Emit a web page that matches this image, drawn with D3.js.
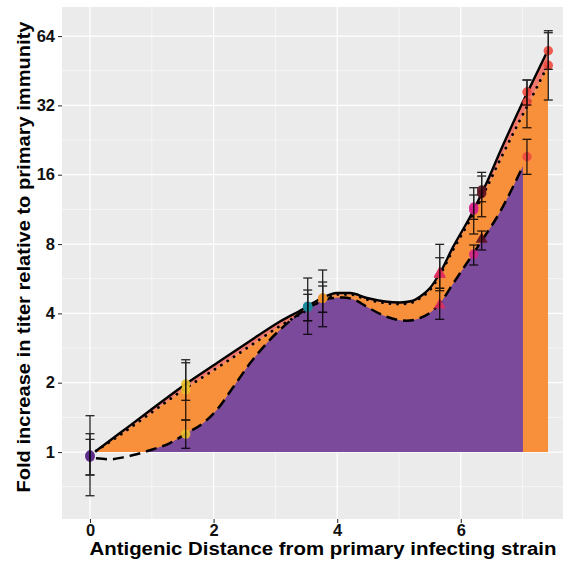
<!DOCTYPE html>
<html>
<head>
<meta charset="utf-8">
<script src="https://cdn.jsdelivr.net/npm/d3@7"></script>
<style>
  html, body { margin: 0; padding: 0; background: #ffffff; }
  svg { display: block; }
  text { font-family: "Liberation Sans", Arial, sans-serif; font-weight: bold; }
</style>
</head>
<body>
<svg id="chart" width="563" height="564"></svg>
<script>
// ---------- DATA ----------
// Upper (solid) and dotted model curves share the same distances
const curveDistance = [0.097,0.485,0.971,1.505,2.104,2.589,3.074,3.447,3.722,3.997,4.207,4.482,4.773,5.016,5.210,5.356,5.502,5.663,5.874,6.149,6.424,6.634,6.958,7.233,7.411];
const solidFold  = [1.01,1.209,1.514,1.935,2.484,3.033,3.686,4.178,4.617,4.90,4.90,4.663,4.503,4.458,4.525,4.757,5.154,5.99,7.76,10.48,14.87,20.07,31.16,44.35,55.65];
const dottedFold = [1.01,1.185,1.469,1.859,2.363,2.886,3.525,4.034,4.503,4.83,4.83,4.594,4.435,4.391,4.458,4.687,5.052,5.869,7.536,10.17,14.15,18.53,27.64,38.45,48.05];
// Lower (dashed) model curve
const dashedDistance = [0.097,0.324,0.534,0.701,0.943,1.294,1.565,1.833,2.050,2.319,2.589,2.859,3.128,3.398,3.668,3.883,4.094,4.288,4.477,4.801,5.124,5.393,5.663,5.879,5.987,6.311,6.634,7.006];
const dashedFold = [0.939,0.930,0.948,0.970,1.013,1.094,1.206,1.336,1.522,1.915,2.427,2.965,3.500,4.002,4.422,4.649,4.687,4.571,4.274,3.868,3.717,3.868,4.422,5.402,5.97,8.057,11.02,17.45];
// Observations
const pointDistance = [0,0,0, 1.549,1.549,1.549, 3.523,3.523,3.523, 3.765,3.765,3.765, 5.659,5.659,5.659, 6.209,6.209,6.209, 6.338,6.338,6.338, 7.071,7.071,7.071, 7.416,7.416];
const pointFold = [0.961,0.97,0.95, 1.974,1.859,1.197, 4.274,4.25,4.30, 4.649,4.65,4.65, 5.97,5.9,4.347, 11.55,11.24,7.219, 13.73,13.28,8.386, 36.57,33.09,19.15, 55.27,47.76];
const pointLow  = [0.646,0.795,0.795, 1.677,1.377,1.038, 3.244,3.717,3.717, 3.50,4.042,4.042, 5.138,5.016,3.769, 10.24,8.843,6.486, 12.21,10.51,7.536, 32.11,25.59,16.06, 45.88,33.76];
const pointHigh = [1.438,1.201,1.135, 2.442,2.516,1.377, 5.695,5.051,4.839, 6.17,5.472,5.258, 6.977,7.977,5.138, 13.06,14.05,7.922, 16.38,15.79,9.11, 41.24,41.24,22.79, 66.17,67.5];
const pointGroup = ["g1","g1","g1","g2","g2","g2","g3","g3","g3","g4","g4","g4","g5","g5","g5","g6","g6","g6","g7","g7","g7","g8","g8","g8","g8","g8"];
const pointShape = ["circle","circle","circle","circle","circle","circle","circle","circle","circle","circle","circle","circle","triangle","triangle","triangle","circle","circle","circle","circle","circle","triangle","circle","circle","circle","circle","circle"];
const groupNames = ["g1","g2","g3","g4","g5","g6","g7","g8"];
// Axis ticks
const xTicks = [0, 2, 4, 6];
const xMinorTicks = [1, 3, 5, 7];
const yTicks = [1, 2, 4, 8, 16, 32, 64];
const yMinorTicks = [0.7071, 1.4142, 2.8284, 5.6569, 11.3137, 22.6274, 45.2548];
const xTitle = "Antigenic Distance from primary infecting strain";
const yTitle = "Fold increase in titer relative to primary immunity";

// ---------- STYLE / LAYOUT ----------
const groupColors = ["#5E2C8C","#E9C12C","#1C8B9B","#EC922F","#E02D5E","#D1218B","#5B1020","#EF4A3F"];
const panel = { left: 62, right: 563, top: 7, bottom: 519 };

const svg = d3.select("#chart");
const x = d3.scaleLinear().domain([-0.453, 7.654]).range([panel.left, panel.right]);
const y = d3.scaleLog().base(2).domain([Math.pow(2, -0.966), Math.pow(2, 6.419)]).range([panel.bottom, panel.top]);
const color = d3.scaleOrdinal().domain(groupNames).range(groupColors);

// panel background
svg.append("rect").attr("x", panel.left).attr("y", panel.top)
  .attr("width", panel.right - panel.left).attr("height", panel.bottom - panel.top)
  .attr("fill", "#EBEBEB");

const grid = svg.append("g");
grid.selectAll(".xm").data(xMinorTicks).join("line")
  .attr("x1", d => x(d)).attr("x2", d => x(d)).attr("y1", panel.top).attr("y2", panel.bottom)
  .attr("stroke", "#fff").attr("stroke-width", 0.6);
grid.selectAll(".ym").data(yMinorTicks).join("line")
  .attr("y1", d => y(d)).attr("y2", d => y(d)).attr("x1", panel.left).attr("x2", panel.right)
  .attr("stroke", "#fff").attr("stroke-width", 0.6);
grid.selectAll(".xM").data(xTicks).join("line")
  .attr("x1", d => x(d)).attr("x2", d => x(d)).attr("y1", panel.top).attr("y2", panel.bottom)
  .attr("stroke", "#fff").attr("stroke-width", 1.2);
grid.selectAll(".yM").data(yTicks).join("line")
  .attr("y1", d => y(d)).attr("y2", d => y(d)).attr("x1", panel.left).attr("x2", panel.right)
  .attr("stroke", "#fff").attr("stroke-width", 1.2);

const upper = curveDistance.map((d, i) => ({ d, s: solidFold[i], t: dottedFold[i] }));
const lower = dashedDistance.map((d, i) => ({ d, f: dashedFold[i] }));
const curve = d3.curveMonotoneX;

// orange: baseline 1 -> dotted
svg.append("path").datum(upper)
  .attr("d", d3.area().curve(curve).x(p => x(p.d)).y0(y(1)).y1(p => y(p.t)))
  .attr("fill", "#F78F3B");
// salmon band: dotted -> solid
svg.append("path").datum(upper)
  .attr("d", d3.area().curve(curve).x(p => x(p.d)).y0(p => y(p.t)).y1(p => y(p.s)))
  .attr("fill", "#F0776C");
// purple: baseline 1 -> dashed (clipped above baseline)
svg.append("clipPath").attr("id", "aboveOne").append("rect")
  .attr("x", panel.left).attr("y", panel.top)
  .attr("width", panel.right - panel.left).attr("height", y(1) - panel.top);
svg.append("path").datum(lower)
  .attr("clip-path", "url(#aboveOne)")
  .attr("d", d3.area().curve(curve).x(p => x(p.d)).y0(y(1)).y1(p => y(p.f)))
  .attr("fill", "#7C4A9B");

// lines
svg.append("path").datum(upper)
  .attr("d", d3.line().curve(curve).x(p => x(p.d)).y(p => y(p.t)))
  .attr("fill", "none").attr("stroke", "#000").attr("stroke-width", 2.8)
  .attr("stroke-linecap", "round").attr("stroke-dasharray", "0.1 7.5");
svg.append("path").datum(upper)
  .attr("d", d3.line().curve(curve).x(p => x(p.d)).y(p => y(p.s)))
  .attr("fill", "none").attr("stroke", "#000").attr("stroke-width", 2.4);
svg.append("path").datum(lower)
  .attr("d", d3.line().curve(curve).x(p => x(p.d)).y(p => y(p.f)))
  .attr("fill", "none").attr("stroke", "#000").attr("stroke-width", 2.5)
  .attr("stroke-dasharray", "11 6");

// points
const pts = pointDistance.map((d, i) => ({ d, f: pointFold[i], lo: pointLow[i], hi: pointHigh[i], g: pointGroup[i], s: pointShape[i] }));
const sym = d3.symbol();
svg.append("g").selectAll("path").data(pts).join("path")
  .attr("transform", p => `translate(${x(p.d)},${y(p.f)})`)
  .attr("d", p => sym.type(p.s === "triangle" ? d3.symbolTriangle : d3.symbolCircle).size(p.s === "triangle" ? 64 : 70)())
  .attr("fill", p => color(p.g)).attr("opacity", 0.9);

// error bars
const eb = svg.append("g").attr("stroke", "#000").attr("stroke-width", 1.3).attr("opacity", 0.85);
pts.forEach(p => {
  const cx = x(p.d);
  eb.append("line").attr("x1", cx).attr("x2", cx).attr("y1", y(p.lo)).attr("y2", y(p.hi));
  eb.append("line").attr("x1", cx - 4.5).attr("x2", cx + 4.5).attr("y1", y(p.lo)).attr("y2", y(p.lo));
  eb.append("line").attr("x1", cx - 4.5).attr("x2", cx + 4.5).attr("y1", y(p.hi)).attr("y2", y(p.hi));
});

// axes
const xAxis = svg.append("g").attr("transform", `translate(0,${panel.bottom})`)
  .call(d3.axisBottom(x).tickValues(xTicks).tickSize(4).tickPadding(3).tickFormat(d3.format("d")));
const yAxis = svg.append("g").attr("transform", `translate(${panel.left},0)`)
  .call(d3.axisLeft(y).tickValues(yTicks).tickSize(4).tickPadding(3).tickFormat(d3.format("d")));
[xAxis, yAxis].forEach(a => {
  a.select(".domain").remove();
  a.selectAll(".tick line").attr("stroke", "#333").attr("stroke-width", 1.1);
  a.selectAll(".tick text").attr("fill", "#111").style("font-size", "16.5px").style("font-weight", "bold")
    .style("font-family", "'Liberation Sans', Arial, sans-serif");
});
xAxis.selectAll(".tick text").attr("dy", "0.62em");

svg.append("text").attr("x", 323).attr("y", 555).attr("text-anchor", "middle")
  .attr("textLength", 467).attr("lengthAdjust", "spacingAndGlyphs")
  .style("font-size", "17.5px").attr("fill", "#000").text(xTitle);
svg.append("text").attr("transform", "translate(29.5,257) rotate(-90)").attr("text-anchor", "middle")
  .attr("textLength", 471).attr("lengthAdjust", "spacingAndGlyphs")
  .style("font-size", "18px").attr("fill", "#000").text(yTitle);
</script>
</body>
</html>
